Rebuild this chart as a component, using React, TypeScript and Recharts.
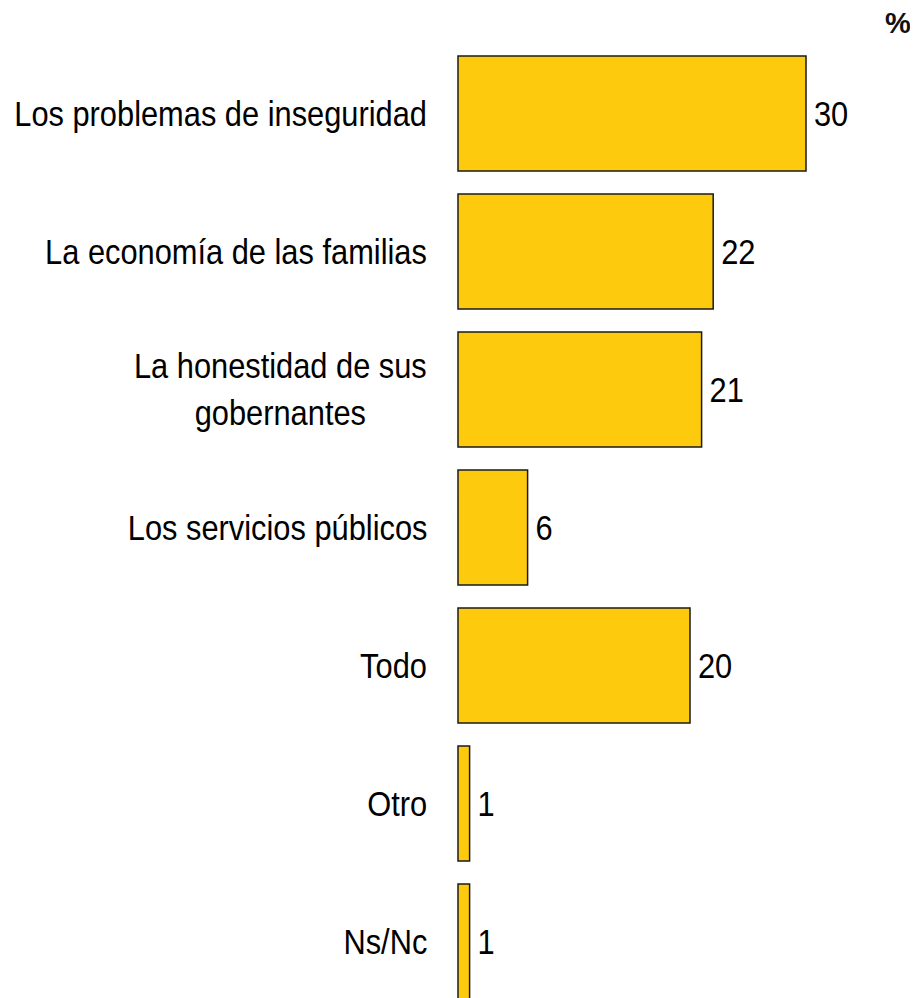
import { BarChart, Bar, XAxis, YAxis, LabelList } from 'recharts'

const categories = [
  'Los problemas de inseguridad',
  'La economía de las familias',
  'La honestidad de sus\ngobernantes',
  'Los servicios públicos',
  'Todo',
  'Otro',
  'Ns/Nc'
]
const values = [30, 22, 21, 6, 20, 1, 1]

const data = categories.map((name, i) => ({ name, value: values[i] }))

const FONT = '"Liberation Sans", Arial, sans-serif'
// the source uses a narrow face; squeeze the regular one to match
const SQUEEZE = 0.88

interface TickProps {
  x?: number;
  y?: number;
  payload?: { value: string };
}

// multi-line labels: block right-aligned to the axis, lines centred inside it
const CategoryTick = ({ x = 0, y = 0, payload }: TickProps) => {
  const lines = (payload?.value ?? '').split('\n')
  return (
    <foreignObject x={x - 31 - 600} y={y - 70} width={600} height={140}>
      <div style={{ display: 'flex', justifyContent: 'flex-end', alignItems: 'center', height: '100%' }}>
        <div
          style={{
            textAlign: 'center',
            fontFamily: FONT,
            fontSize: 35,
            lineHeight: '47px',
            color: '#000',
            whiteSpace: 'nowrap',
            transform: `scaleX(${SQUEEZE})`,
            transformOrigin: 'right center'
          }}
        >
          {lines.map((l, i) => <div key={i}>{l}</div>)}
        </div>
      </div>
    </foreignObject>
  )
}

interface ValueLabelProps {
  x?: number | string;
  y?: number | string;
  width?: number | string;
  height?: number | string;
  value?: number | string;
}

const ValueLabel = ({ x = 0, y = 0, width = 0, height = 0, value }: ValueLabelProps) => {
  const tx = Number(x) + Number(width) + 8
  const ty = Number(y) + Number(height) / 2
  return (
    <g transform={`translate(${tx},${ty}) scale(${SQUEEZE},1)`}>
      <text x={0} y={0} dy="0.355em" fill="#000" fontFamily={FONT} fontSize={35}>{value}</text>
    </g>
  )
}

export default function App() {
  return (
    <div style={{ position: 'relative', width: 910, height: 990, overflow: 'hidden', background: '#fff' }}>
      <div style={{ position: 'absolute', left: 877, top: 1, fontFamily: FONT, fontWeight: 'bold', fontSize: 29, lineHeight: 1, color: '#111' }}>%</div>
      <BarChart
        width={910}
        height={1002}
        data={data}
        layout="vertical"
        margin={{ top: 36, right: 112, left: 0, bottom: 0 }}
      >
        <XAxis type="number" domain={[0, 30]} hide />
        <YAxis
          type="category"
          dataKey="name"
          width={450}
          axisLine={false}
          tickLine={false}
          tickSize={0}
          tickMargin={0}
          interval={0}
          tick={<CategoryTick />}
        />
        <Bar dataKey="value" fill="#FDCA0D" stroke="#1a1a1a" strokeWidth={1.5} barSize={115} isAnimationActive={false}>
          <LabelList dataKey="value" content={<ValueLabel />} />
        </Bar>
      </BarChart>
    </div>
  )
}
